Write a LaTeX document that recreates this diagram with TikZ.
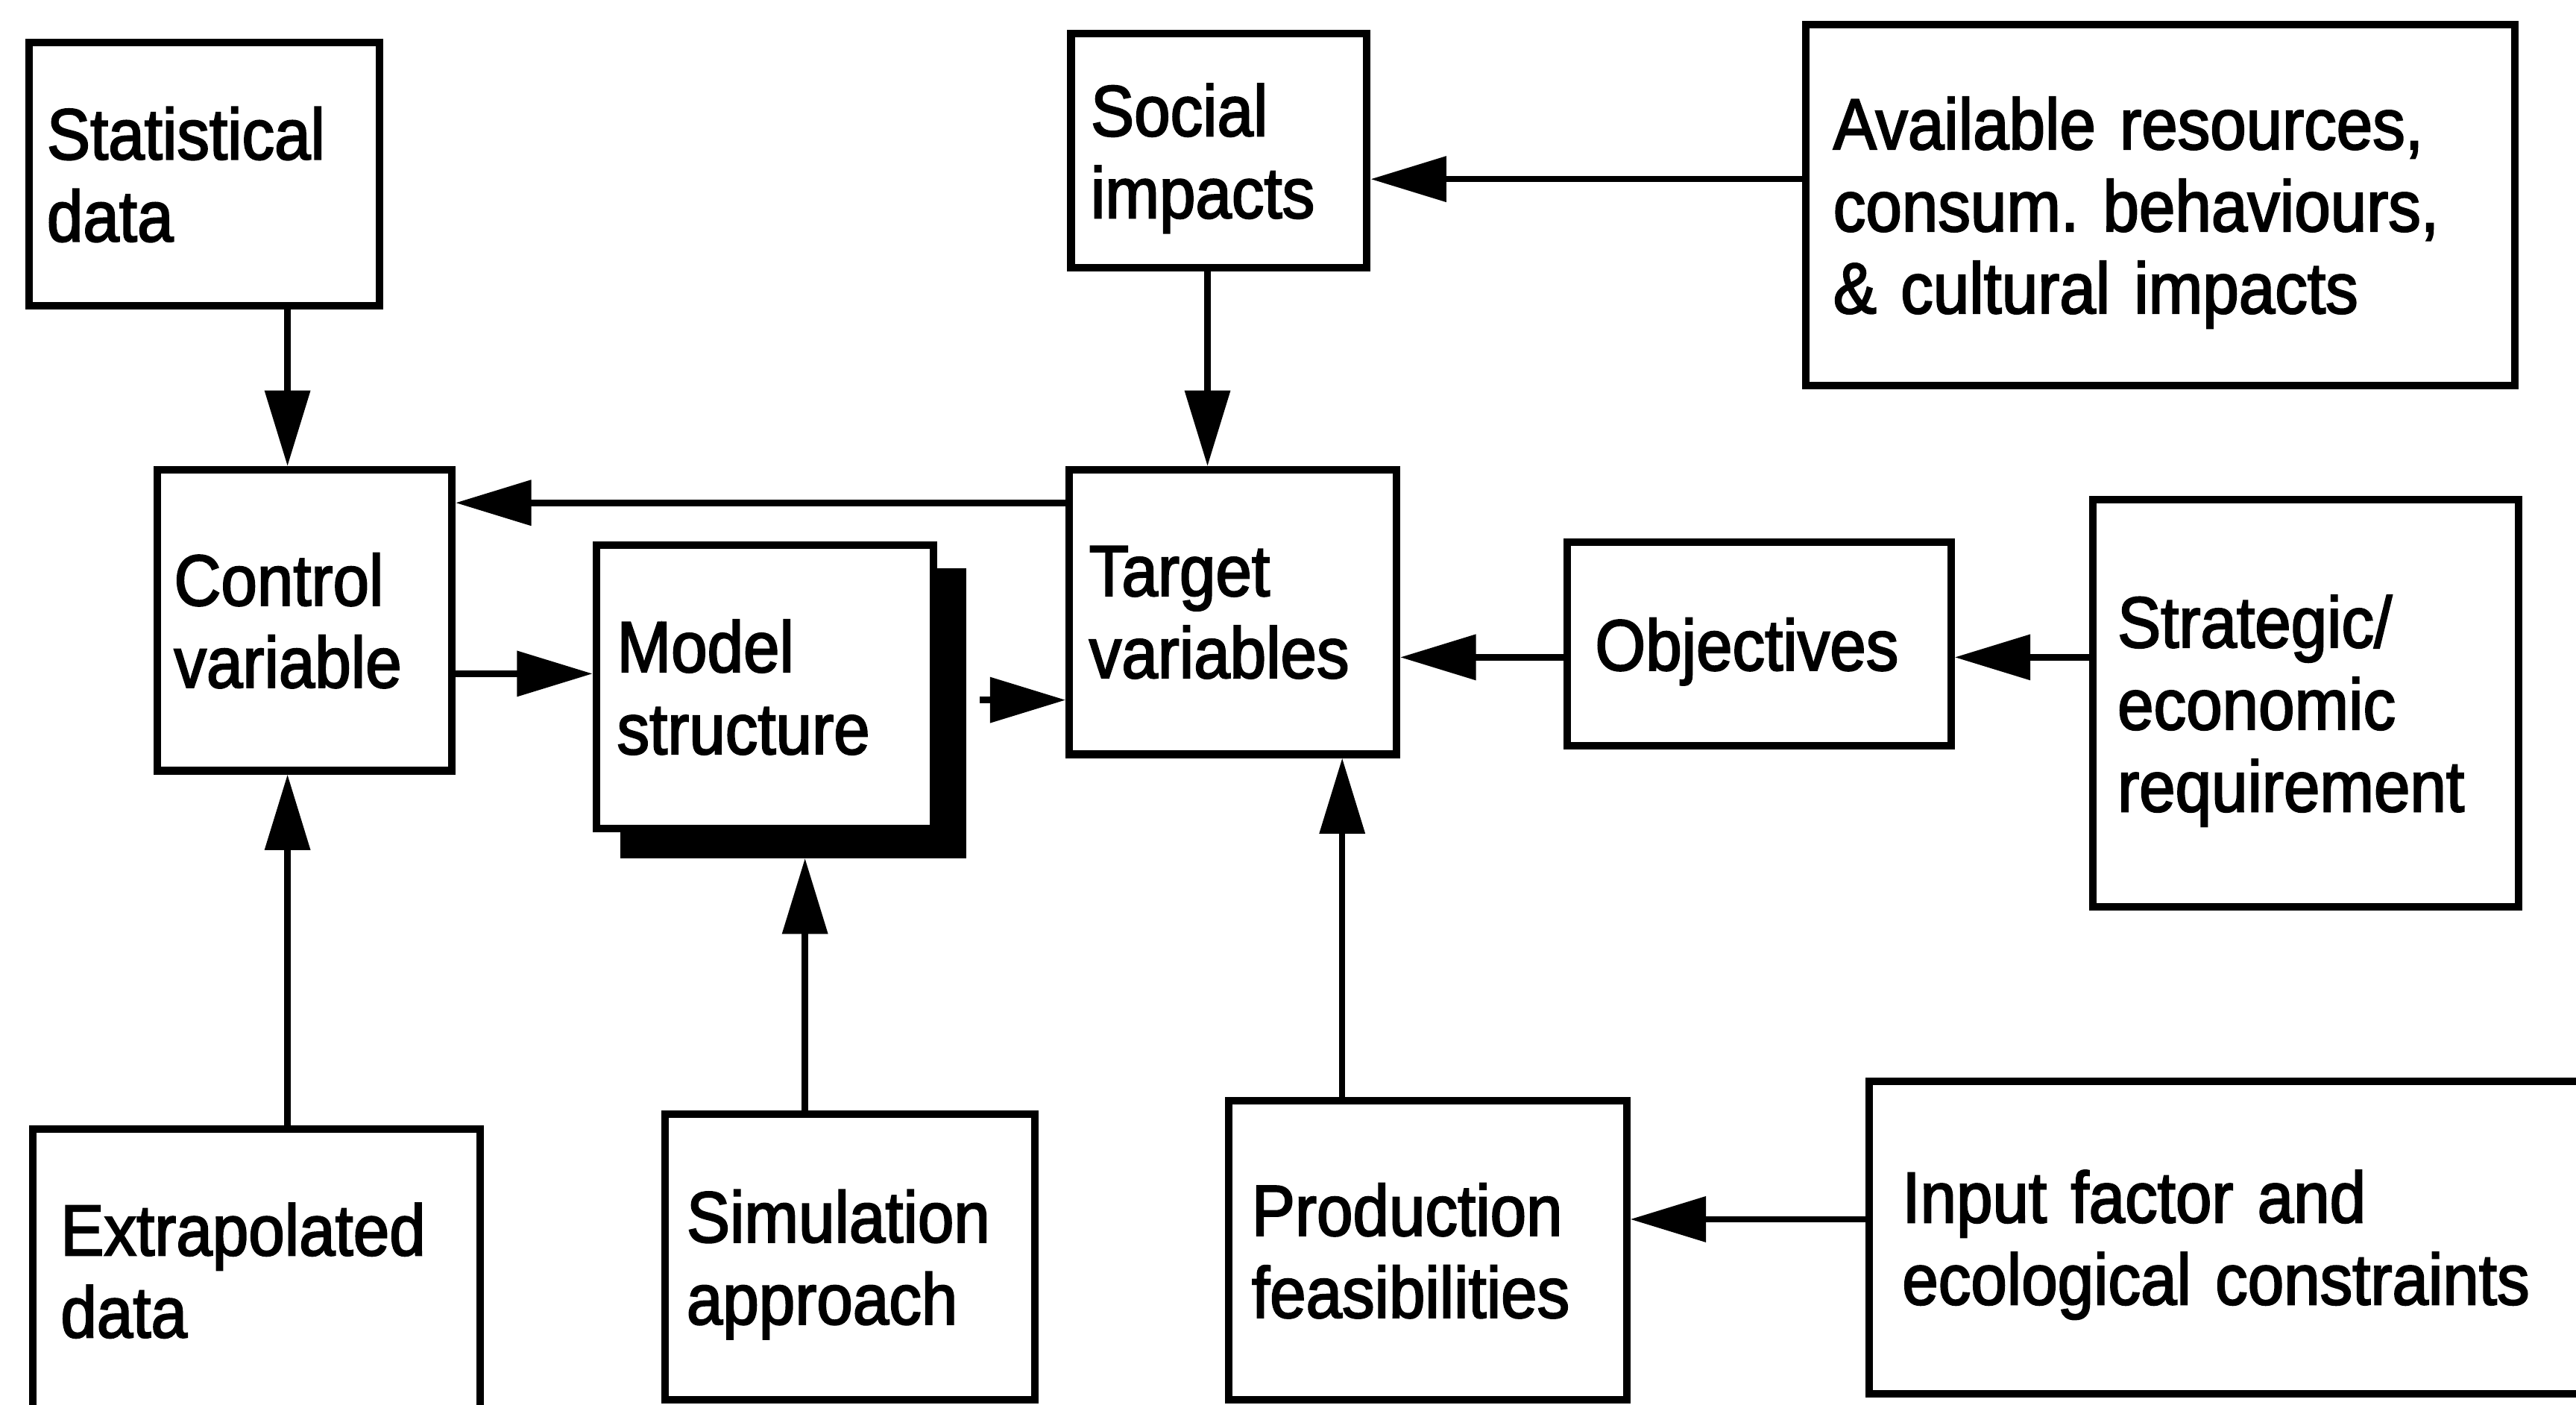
\documentclass[tikz,border=0pt]{standalone}
\usepackage{fontspec}
\usetikzlibrary{arrows.meta}
\newfontfamily\plot[FakeStretch=0.9,FakeBold=2.2]{Liberation Sans}
\newcommand\nd{\par\kern-\prevdepth}
\frenchspacing
\tikzset{
  box/.style={draw, line width=1.3pt, fill=white, font=\plot\fontsize{12.5pt}{14.2pt}\selectfont\frenchspacing,
    align=left, inner ysep=0pt, rectangle},
  arr/.style={line width=1.1pt, -{Triangle[length=0.46cm,width=0.27cm]}},
}
\begin{document}
\begin{tikzpicture}[x=0.01cm,y=-0.01cm]
\clip (0,0) rectangle (1568,855);
\fill[white] (0,0) rectangle (1568,855);
% boxes
\node[box, minimum width=2.134cm, minimum height=1.60cm, inner xsep=0.11cm, text width=1.914cm] (stat) at (124.3,106) {Statistical\\data\nd};
\node[box, minimum width=1.80cm, minimum height=1.424cm, inner xsep=0.12cm, text width=1.56cm] (social) at (742,91.8) {Social\\impacts\nd};
\node[box, minimum width=4.31cm, minimum height=2.195cm, inner xsep=0.165cm, text width=3.98cm] (avail) at (1315,124.8) {Available resources,\\consum. behaviours,\\\& cultural impacts\nd};
\node[box, minimum width=1.79cm, minimum height=1.83cm, inner xsep=0.10cm, text width=1.59cm] (ctrl) at (185.5,377.5) {Control\\variable\nd};
\node[draw, fill=black, line width=1.3pt, minimum width=2.06cm, minimum height=1.72cm, inner sep=0pt] (shadow) at (483,434) {};
\node[box, minimum width=2.05cm, minimum height=1.72cm, inner xsep=0.126cm, text width=1.798cm] (model) at (465.5,418) {Model\\structure\nd};
\node[box, minimum width=1.99cm, minimum height=1.73cm, inner xsep=0.12cm, text width=1.75cm] (target) at (750.5,372.5) {Target\\variables\nd};
\node[box, minimum width=2.335cm, minimum height=1.24cm, inner xsep=0.17cm, text width=1.995cm] (obj) at (1070.75,392) {Objectives\nd};
\node[box, minimum width=2.59cm, minimum height=2.48cm, inner xsep=0.15cm, text width=2.29cm] (strat) at (1403.5,428) {Strategic/\\economic\\requirement\nd};
\node[box, minimum width=2.72cm, minimum height=1.72cm, inner xsep=0.17cm, text width=2.38cm] (extra) at (156,773) {Extrapolated\\data\nd};
\node[box, minimum width=2.25cm, minimum height=1.74cm, inner xsep=0.13cm, text width=1.99cm] (sim) at (517.5,765) {Simulation\\approach\nd};
\node[box, minimum width=2.42cm, minimum height=1.82cm, inner xsep=0.14cm, text width=2.14cm] (prod) at (869,761) {Production\\feasibilities\nd};
\node[box, minimum width=4.62cm, minimum height=1.90cm, inner xsep=0.20cm, text width=4.22cm] (input) at (1369,753) {Input factor and\\ecological constraints\nd};
% connectors
\draw[arr] (stat.south -| 175,0) -- (ctrl.north -| 175,0);
\draw[arr] (social.south -| 735,0) -- (target.north -| 735,0);
\draw[arr] (avail.west |- 0,109) -- (social.east |- 0,109);
\draw[arr] (target.west |- 0,306) -- (ctrl.east |- 0,306);
\draw[arr] (ctrl.east |- 0,410) -- (model.west |- 0,410);
\draw[arr, shorten <=0.08cm] (shadow.east |- 0,426) -- (target.west |- 0,426);
\draw[arr] (obj.west |- 0,400) -- (target.east |- 0,400);
\draw[arr] (strat.west |- 0,400) -- (obj.east |- 0,400);
\draw[arr] (extra.north -| 175,0) -- (ctrl.south -| 175,0);
\draw[arr] (sim.north -| 490,0) -- (shadow.south -| 490,0);
\draw[arr] (prod.north -| 817,0) -- (target.south -| 817,0);
\draw[arr] (input.west |- 0,742) -- (prod.east |- 0,742);
\end{tikzpicture}
\end{document}
